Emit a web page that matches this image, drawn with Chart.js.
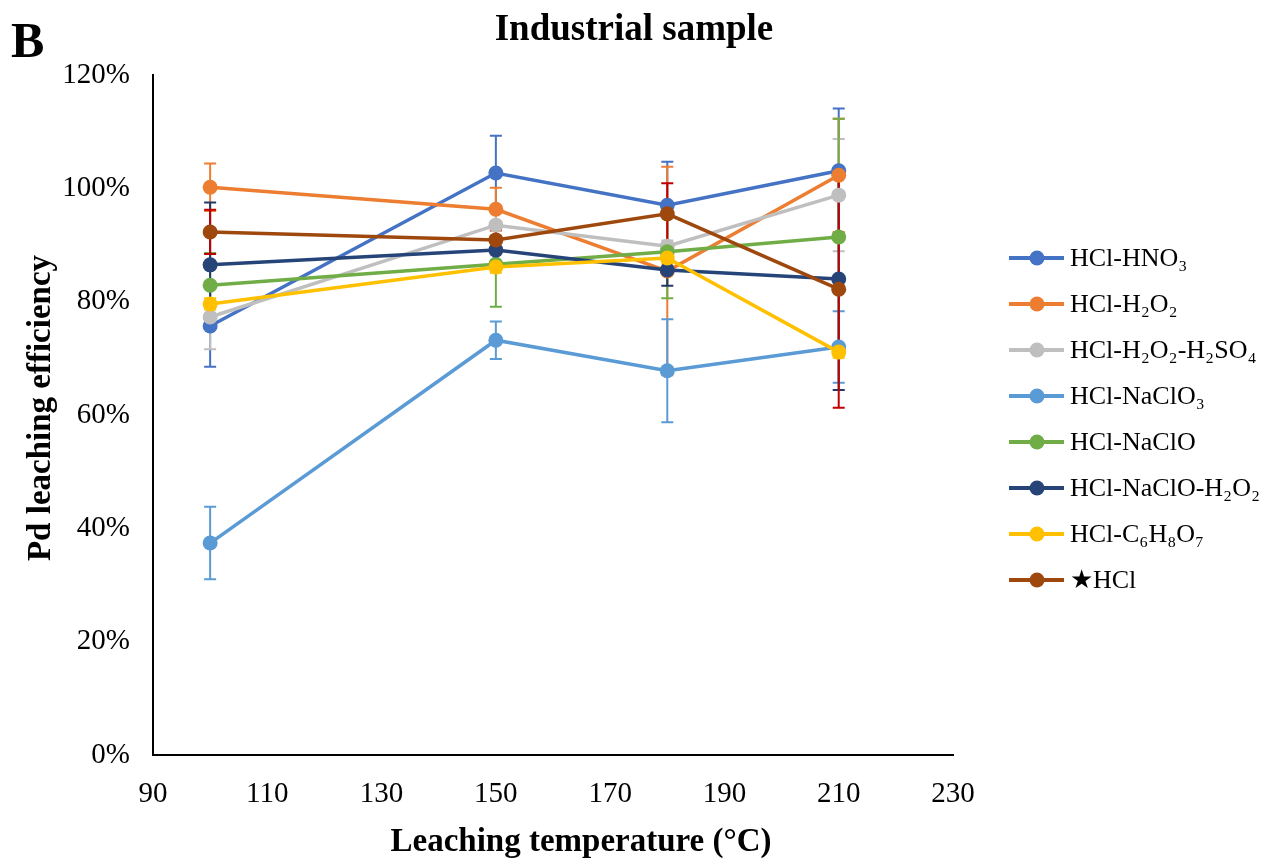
<!DOCTYPE html>
<html>
<head>
<meta charset="utf-8">
<script src="https://cdn.jsdelivr.net/npm/chart.js@4.4.1/dist/chart.umd.min.js"></script>
<style>
html,body{margin:0;padding:0;background:#ffffff;}
canvas{display:block;}
</style>
</head>
<body>
<canvas id="c" width="1267" height="860"></canvas>
<script>
// ---- data ----
const temperatures = [100, 150, 180, 210];
const xTicks = [90, 110, 130, 150, 170, 190, 210, 230];
const yTicks = [0, 20, 40, 60, 80, 100, 120];

const seriesNames = ['HCl-HNO₃', 'HCl-H₂O₂', 'HCl-H₂O₂-H₂SO₄', 'HCl-NaClO₃', 'HCl-NaClO', 'HCl-NaClO-H₂O₂', 'HCl-C₆H₈O₇', '★HCl'];

const hclHno3      = [75.7, 102.7, 97.0, 103.1];
const hclH2o2      = [100.2, 96.3, 85.4, 102.3];
const hclH2o2H2so4 = [77.3, 93.5, 89.8, 98.8];
const hclNaclo3    = [37.4, 73.2, 67.8, 72.0];
const hclNaclo     = [82.9, 86.6, 88.8, 91.4];
const hclNacloH2o2 = [86.5, 89.1, 85.6, 84.0];
const hclCitric    = [79.6, 86.1, 87.7, 71.1];
const hclOnly      = [92.3, 90.9, 95.5, 82.2];

const errHno3      = [7.2, 6.6, 7.7, 11.0];
const errH2o2      = [4.2, 3.8, 18.4, 10.0];
const errH2o2H2so4 = [5.7, 2.8, 1.0, 9.9];
const errNaclo3    = [6.4, 3.3, 9.1, 6.3];
const errNaclo     = [5.7, 7.5, 8.2, 20.9];
const errNacloH2o2 = [11.0, 2.5, 2.8, 19.6];
const errCitric    = [1.0, 1.0, 1.0, 1.0];
const errHcl       = [3.9, 1.8, 5.4, 20.9];

const seriesValues = [hclHno3, hclH2o2, hclH2o2H2so4, hclNaclo3, hclNaclo, hclNacloH2o2, hclCitric, hclOnly];
const seriesErrors = [errHno3, errH2o2, errH2o2H2so4, errNaclo3, errNaclo, errNacloH2o2, errCitric, errHcl];

// ---- styles ----
const lineColors  = ['#4472C4', '#ED7D31', '#BFBFBF', '#5B9BD5', '#70AD47', '#264478', '#FFC000', '#9E480E'];
const errorColors = ['#4472C4', '#ED7D31', '#BFBFBF', '#5B9BD5', '#70AD47', '#1F3864', '#FFC000', '#C00000'];

const SERIF = "'Liberation Serif', 'Times New Roman', 'DejaVu Serif', serif";
Chart.defaults.font.family = SERIF;
Chart.defaults.color = '#000';

const datasets = seriesValues.map((vals, i) => ({
  label: seriesNames[i],
  data: vals.map((v, j) => ({x: temperatures[j], y: v})),
  errors: seriesErrors[i],
  errorColor: errorColors[i],
  borderColor: lineColors[i],
  backgroundColor: lineColors[i],
  pointBackgroundColor: lineColors[i],
  pointBorderColor: lineColors[i],
  pointBorderWidth: 0,
  pointRadius: 7.5,
  pointHoverRadius: 7.5,
  borderWidth: 3.5,
  tension: 0,
  fill: false,
  order: 20 - i
}));

const errorBarsPlugin = {
  id: 'errorBars',
  beforeDatasetsDraw(chart) {
    const {ctx, scales: {x, y}} = chart;
    ctx.save();
    chart.data.datasets.forEach(ds => {
      ctx.strokeStyle = ds.errorColor;
      ctx.lineWidth = 2;
      ds.data.forEach((p, j) => {
        const e = ds.errors[j];
        const px = x.getPixelForValue(p.x);
        const top = y.getPixelForValue(p.y + e);
        const bot = y.getPixelForValue(p.y - e);
        ctx.beginPath();
        ctx.moveTo(px, top); ctx.lineTo(px, bot);
        ctx.moveTo(px - 6, top); ctx.lineTo(px + 6, top);
        ctx.moveTo(px - 6, bot); ctx.lineTo(px + 6, bot);
        ctx.stroke();
      });
    });
    ctx.restore();
  }
};

const textPlugin = {
  id: 'texts',
  afterDraw(chart) {
    const {ctx, chartArea} = chart;
    ctx.save();
    ctx.fillStyle = '#000';
    // panel letter
    ctx.font = 'bold 50px ' + SERIF;
    ctx.textAlign = 'left';
    ctx.textBaseline = 'alphabetic';
    ctx.fillText('B', 11, 57);
    // title
    ctx.font = 'bold 37px ' + SERIF;
    ctx.textAlign = 'center';
    ctx.fillText('Industrial sample', 634, 40);
    // x title
    ctx.font = 'bold 33px ' + SERIF;
    ctx.fillText('Leaching temperature (°C)', 581, 851);
    // y title
    ctx.save();
    ctx.translate(50, 408);
    ctx.rotate(-Math.PI / 2);
    ctx.textAlign = 'center';
    ctx.fillText('Pd leaching efficiency', 0, 0);
    ctx.restore();
    // legend
    ctx.font = '26px ' + SERIF;
    ctx.textAlign = 'left';
    ctx.textBaseline = 'middle';
    chart.data.datasets.forEach((ds, i) => {
      const yy = 258 + i * 46;
      ctx.strokeStyle = ds.borderColor;
      ctx.lineWidth = 4;
      ctx.beginPath();
      ctx.moveTo(1009, yy); ctx.lineTo(1064, yy);
      ctx.stroke();
      ctx.fillStyle = ds.borderColor;
      ctx.beginPath();
      ctx.arc(1037, yy, 7.5, 0, Math.PI * 2);
      ctx.fill();
      ctx.fillStyle = '#000';
      ctx.fillText(ds.label, 1070, yy + 1);
    });
    ctx.restore();
  }
};

new Chart(document.getElementById('c'), {
  type: 'line',
  data: {datasets},
  options: {
    responsive: false,
    animation: false,
    devicePixelRatio: 1,
    layout: {padding: {left: 0, right: 314, top: 75, bottom: 0}},
    plugins: {
      legend: {display: false},
      tooltip: {enabled: false},
      title: {display: false}
    },
    scales: {
      x: {
        type: 'linear',
        min: xTicks[0],
        max: xTicks[xTicks.length - 1],
        afterBuildTicks(scale) { scale.ticks = xTicks.map(v => ({value: v})); },
        afterFit(scale) { scale.height = 105; },
        grid: {display: false, drawTicks: false},
        border: {display: true, color: '#000', width: 2},
        ticks: {color: '#000', font: {size: 29, family: SERIF}, padding: 22, maxRotation: 0}
      },
      y: {
        type: 'linear',
        min: yTicks[0],
        max: yTicks[yTicks.length - 1],
        afterBuildTicks(scale) { scale.ticks = yTicks.map(v => ({value: v})); },
        afterFit(scale) { scale.width = 153; },
        grid: {display: false, drawTicks: false},
        border: {display: true, color: '#000', width: 2},
        ticks: {color: '#000', font: {size: 29, family: SERIF}, padding: 23, callback: v => v + '%'}
      }
    }
  },
  plugins: [errorBarsPlugin, textPlugin]
});
</script>
</body>
</html>
